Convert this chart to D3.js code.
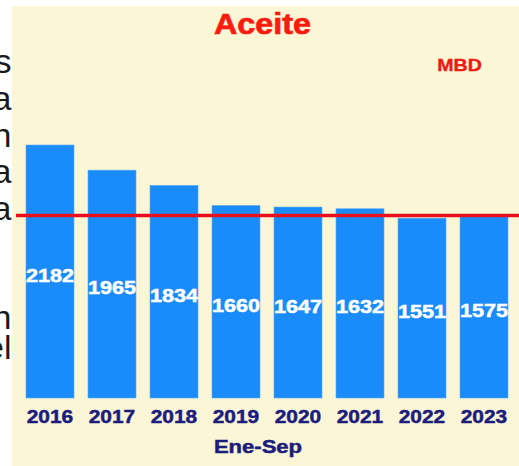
<!DOCTYPE html>
<html>
<head>
<meta charset="utf-8">
<script src="https://cdn.jsdelivr.net/npm/d3@7"></script>
<style>
  html, body { margin: 0; padding: 0; background: #ffffff; }
  svg { display: block; }
  text { font-family: "Liberation Sans", Arial, sans-serif; }
</style>
</head>
<body>
<svg id="chart" width="519" height="466"></svg>
<script>
// ---- data ----
const years = ["2016", "2017", "2018", "2019", "2020", "2021", "2022", "2023"];
const values = [2182, 1965, 1834, 1660, 1647, 1632, 1551, 1575];
const referenceValue = 1575;
const titleText = "Aceite";
const unitText = "MBD";
const periodText = "Ene-Sep";
// fragments of neighbouring slide text visible at the left edge
const sideFragments = ["s", "a", "n", "a", "a", "n", "el"];
const sideBaselines = [73, 110, 147, 183, 220, 329, 359];

// ---- layout ----
const W = 519, H = 466;
const svg = d3.select("#chart");

// side text (behind the panel)
svg.selectAll("text.side").data(sideFragments).join("text")
  .attr("class", "side")
  .attr("x", 11.5)
  .attr("y", (d, i) => sideBaselines[i])
  .attr("text-anchor", "end")
  .attr("font-size", 34)
  .attr("fill", "#1a1a1a")
  .text(d => d);

// cream panel
svg.append("rect")
  .attr("x", 12).attr("y", 6)
  .attr("width", W - 12).attr("height", H - 6)
  .attr("fill", "#fbf6d6");

const x = d3.scaleBand()
  .domain(years)
  .range([19, 515])
  .paddingInner(14 / 62)
  .paddingOuter(7 / 62);

const y = d3.scaleLinear()
  .domain([0, 2182])
  .range([398, 145]);

// bars
svg.selectAll("rect.bar").data(values).join("rect")
  .attr("class", "bar")
  .attr("x", (d, i) => x(years[i]))
  .attr("y", d => y(d))
  .attr("width", x.bandwidth())
  .attr("height", d => y(0) - y(d))
  .attr("fill", "#1a8cfa")
  .attr("stroke", "#5aaaf0")
  .attr("stroke-width", 0.6);

// reference line
svg.append("line")
  .attr("x1", 16).attr("x2", W)
  .attr("y1", y(referenceValue)).attr("y2", y(referenceValue))
  .attr("stroke", "#e8101c")
  .attr("stroke-width", 3.5);

// value labels
svg.selectAll("text.val").data(values).join("text")
  .attr("class", "val")
  .attr("transform", (d, i) => {
    const cx = x(years[i]) + x.bandwidth() / 2;
    const cy = (y(d) + y(0)) / 2 + 10;
    return `translate(${cx},${cy}) scale(1.2,1)`;
  })
  .attr("text-anchor", "middle")
  .attr("font-size", 18)
  .attr("font-weight", "bold")
  .attr("fill", "#ffffff")
  .attr("stroke", "#ffffff")
  .attr("stroke-width", 0.5)
  .text(d => d);

// x axis
const axis = svg.append("g")
  .attr("transform", `translate(0,${y(0)})`)
  .call(d3.axisBottom(x).tickSize(0).tickPadding(0));
axis.select(".domain").remove();
axis.selectAll("text")
  .attr("y", 0).attr("dy", null)
  .attr("transform", "translate(0,24.5) scale(1.1,1)")
  .attr("font-size", 19)
  .attr("font-weight", "bold")
  .attr("fill", "#1c1c7c")
  .attr("stroke", "#1c1c7c")
  .attr("stroke-width", 0.5)
  .attr("font-family", "'Liberation Sans', Arial, sans-serif");

// period label
svg.append("text")
  .attr("transform", "translate(258,453) scale(1.16,1)")
  .attr("text-anchor", "middle")
  .attr("font-size", 19)
  .attr("font-weight", "bold")
  .attr("fill", "#1c1c7c")
  .attr("stroke", "#1c1c7c")
  .attr("stroke-width", 0.5)
  .text(periodText);

// title
svg.append("text")
  .attr("transform", "translate(262.5,33.5) scale(1.08,1)")
  .attr("text-anchor", "middle")
  .attr("font-size", 30)
  .attr("font-weight", "bold")
  .attr("fill", "#ff1a0e")
  .attr("stroke", "#ff1a0e")
  .attr("stroke-width", 0.7)
  .text(titleText);

// unit
svg.append("text")
  .attr("transform", "translate(459.5,71) scale(1.15,1)")
  .attr("text-anchor", "middle")
  .attr("font-size", 17)
  .attr("font-weight", "bold")
  .attr("fill", "#f01a14")
  .attr("stroke", "#f01a14")
  .attr("stroke-width", 0.4)
  .text(unitText);
</script>
</body>
</html>
